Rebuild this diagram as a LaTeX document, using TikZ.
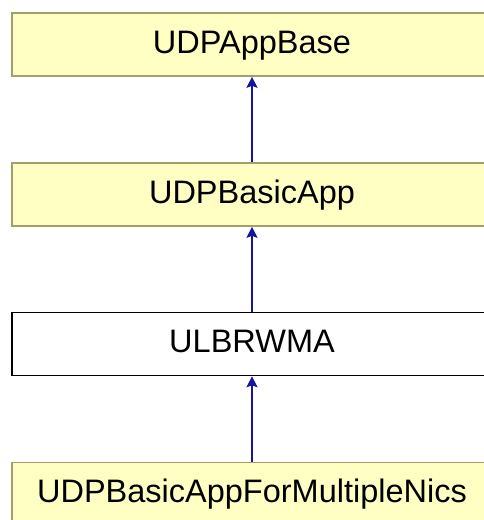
\documentclass[tikz,border=0pt]{standalone}
\usepackage{fontspec}
\setmainfont{Liberation Sans}
\usetikzlibrary{arrows.meta}
\definecolor{boxfill}{RGB}{255,255,195}
\definecolor{boxline}{RGB}{160,160,105}
\definecolor{arrowblue}{RGB}{20,20,160}
\tikzset{
  cls/.style={draw=boxline, fill=boxfill, line width=1.6pt, minimum width=480pt,
    inner xsep=0pt, inner ysep=0pt, text height=40pt, text depth=23pt,
    font=\fontsize{32.5pt}{36pt}\selectfont},
  clsw/.style={cls, draw=black, fill=white},
  inherit/.style={draw=arrowblue, line width=1.8pt,
    -{Stealth[length=11pt,width=11pt,inset=2pt]}}
}
\begin{document}
\begin{tikzpicture}[x=1pt,y=-1pt]
\useasboundingbox (0,0) rectangle (484,520);
\node[cls]  (base)  at (252,44.5) {UDPAppBase};
\node[cls]  (basic) at (252,194.5) {UDPBasicApp};
\node[clsw] (ulb)   at (252,344) {ULBRWMA};
\node[cls]  (multi) at (252,494) {UDPBasicAppForMultipleNics};
\draw[inherit] (basic.north) -- (base.south);
\draw[inherit] (ulb.north) -- (basic.south);
\draw[inherit] (multi.north) -- (ulb.south);
\end{tikzpicture}
\end{document}
